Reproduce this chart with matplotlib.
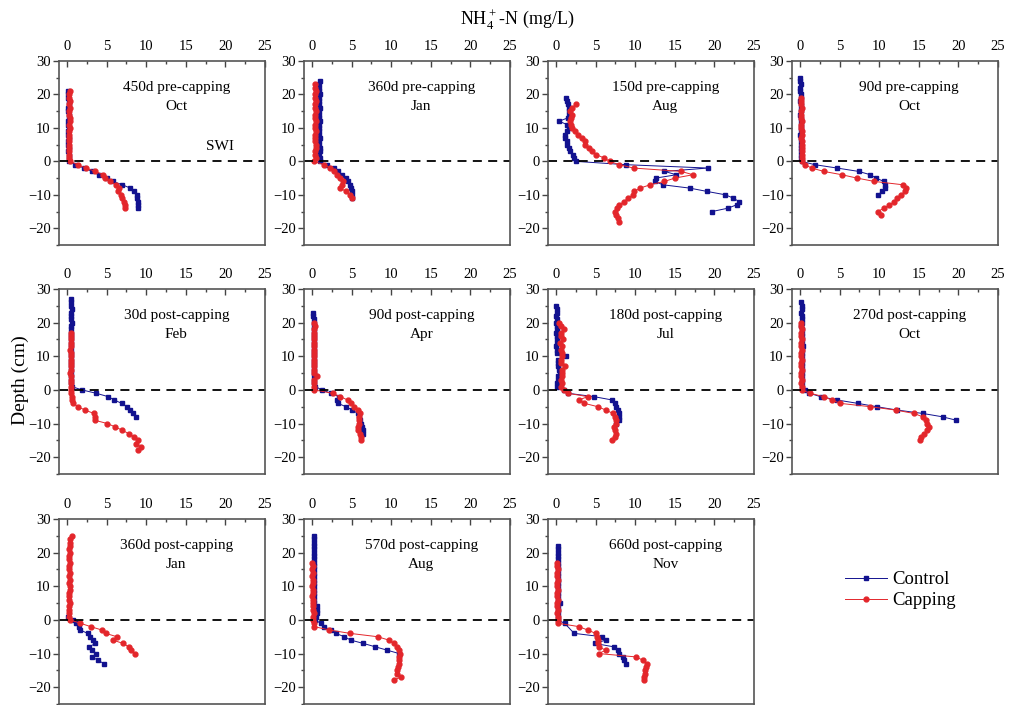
import matplotlib.pyplot as plt
from matplotlib.ticker import MultipleLocator

plt.rcParams['font.family'] = 'Liberation Serif'
plt.rcParams['mathtext.fontset'] = 'custom'
plt.rcParams['mathtext.rm'] = 'Liberation Serif'

# ---- data: NH4+-N (mg/L) vs depth (cm), control = blue, capping = red ----
# 450d pre-capping, Oct
ctrl_z_1 = list(range(21, -15, -1))
ctrl_x_1 = [0.1, 0.1, 0.1, 0.2, 0.2, 0.1, 0.1, 0.2, 0.2, 0.1, 0.1, 0.2, 0.1, 0.1, 0.2, 0.1, 0.1, 0.2,
            0.1, 0.2, 0.2, 0.3, 1.0, 2.2, 3.2, 4.0, 5.0, 5.8, 7.0, 8.0, 8.5, 8.8, 8.9, 9.0, 9.0, 9.0]
cap_z_1 = list(range(21, -15, -1))
cap_x_1 = [0.4, 0.3, 0.3, 0.4, 0.3, 0.4, 0.3, 0.3, 0.4, 0.4, 0.3, 0.4, 0.3, 0.3, 0.3, 0.2, 0.3, 0.3,
           0.2, 0.2, 0.3, 0.4, 1.4, 2.4, 3.6, 4.6, 4.8, 5.4, 6.2, 6.6, 6.4, 6.8, 7.0, 7.2, 7.3, 7.3]

# 360d pre-capping, Jan
ctrl_z_2 = list(range(24, -12, -1))
ctrl_x_2 = [1.0, 0.9, 0.9, 0.9, 1.0, 0.9, 0.9, 0.9, 1.0, 0.9, 0.9, 0.9, 1.0, 0.9, 0.9, 0.9, 0.9, 1.0,
            0.9, 0.9, 1.0, 1.0, 0.9, 1.0, 1.0, 1.9, 2.8, 3.3, 3.8, 4.3, 4.6, 4.8, 4.9, 5.0, 5.1, 5.1]
cap_z_2 = list(range(23, -12, -1))
cap_x_2 = [0.4, 0.4, 0.5, 0.4, 0.4, 0.5, 0.4, 0.4, 0.5, 0.4, 0.4, 0.5, 0.4, 0.4, 0.5, 0.4, 0.4, 0.4,
           0.5, 0.5, 0.4, 0.4, 0.5, 0.2, 1.5, 2.3, 2.8, 3.2, 3.6, 3.9, 3.8, 3.6, 4.3, 4.8, 5.0]

# 150d pre-capping, Aug
ctrl_z_3 = list(range(19, -16, -1))
ctrl_x_3 = [1.3, 1.4, 1.5, 1.6, 1.7, 1.6, 1.5, 0.4, 1.4, 1.6, 1.4, 1.2, 1.2, 1.4, 1.4, 1.7, 1.8, 2.2,
            2.3, 2.5, 8.9, 19.2, 13.7, 15.2, 12.6, 12.5, 13.5, 16.9, 19.1, 21.4, 22.4, 23.1, 22.8,
            21.7, 19.7]
cap_z_3 = list(range(17, -19, -1))
cap_x_3 = [2.5, 2.0, 1.8, 2.0, 1.9, 1.8, 1.9, 2.0, 2.4, 2.8, 3.3, 3.7, 3.7, 4.2, 4.6, 5.1, 6.1, 6.8,
           8.0, 9.8, 15.8, 17.3, 15.0, 13.7, 11.9, 10.6, 9.9, 9.7, 9.1, 8.6, 8.0, 7.7, 7.5, 7.6, 7.8, 7.9]

# 90d pre-capping, Oct
ctrl_z_4 = list(range(25, -11, -1))
ctrl_x_4 = [0.0, 0.0, 0.1, 0.0, 0.0, 0.1, 0.1, 0.0, 0.1, 0.1, 0.1, 0.0, 0.1, 0.1, 0.1, 0.1, 0.1, 0.0,
            0.1, 0.1, 0.1, 0.1, 0.1, 0.1, 0.1, 0.2, 1.9, 4.7, 7.4, 8.9, 9.6, 10.6, 10.8, 10.8, 10.4, 9.8]
cap_z_4 = list(range(19, -17, -1))
cap_x_4 = [0.1, 0.1, 0.1, 0.2, 0.1, 0.1, 0.1, 0.2, 0.1, 0.1, 0.2, 0.2, 0.1, 0.2, 0.2, 0.2, 0.2, 0.2,
           0.2, 0.2, 0.6, 1.5, 3.0, 5.3, 7.2, 9.4, 13.0, 13.4, 13.2, 12.8, 12.3, 11.9, 11.3, 10.6,
           9.8, 10.2]

# 30d post-capping, Feb
ctrl_z_5 = list(range(27, -9, -1))
ctrl_x_5 = [0.5, 0.5, 0.5, 0.6, 0.5, 0.5, 0.5, 0.6, 0.5, 0.5, 0.5, 0.5, 0.5, 0.5, 0.5, 0.5, 0.5, 0.5,
            0.5, 0.5, 0.5, 0.5, 0.5, 0.5, 0.5, 0.5, 0.6, 1.9, 3.7, 5.2, 6.0, 6.9, 7.6, 8.0, 8.4, 8.7]
cap_z_5 = list(range(17, -19, -1))
cap_x_5 = [0.5, 0.5, 0.5, 0.5, 0.5, 0.4, 0.5, 0.5, 0.5, 0.5, 0.5, 0.5, 0.4, 0.5, 0.5, 0.5, 0.5, 0.5,
           0.5, 0.6, 0.6, 0.8, 1.4, 2.3, 3.4, 3.5, 3.5, 5.1, 6.1, 7.0, 7.8, 8.5, 9.0, 8.7, 9.3, 9.0]

# 90d post-capping, Apr
ctrl_z_6 = list(range(23, -14, -1))
ctrl_x_6 = [0.1, 0.1, 0.2, 0.2, 0.2, 0.2, 0.3, 0.2, 0.2, 0.3, 0.2, 0.2, 0.3, 0.2, 0.2, 0.3, 0.3, 0.2,
            0.3, 0.3, 0.3, 0.3, 0.4, 1.3, 2.4, 3.4, 3.2, 3.3, 4.3, 5.1, 5.8, 6.0, 6.1, 6.2, 6.3, 6.4, 6.4]
cap_z_6 = list(range(20, -16, -1))
cap_x_6 = [0.3, 0.4, 0.2, 0.3, 0.2, 0.2, 0.3, 0.2, 0.3, 0.3, 0.2, 0.3, 0.3, 0.3, 0.3, 0.3, 0.6, 0.3,
           0.3, 0.3, 0.3, 2.6, 3.6, 4.5, 4.9, 5.3, 5.8, 6.1, 6.0, 5.9, 5.9, 5.8, 5.8, 6.1, 6.2, 6.2]

# 180d post-capping, Jul
ctrl_z_7 = list(range(25, -11, -1))
ctrl_x_7 = [0.0, 0.1, 0.1, 0.0, 0.1, 0.0, 0.1, 0.1, 0.0, 0.1, 0.1, 0.1, 0.0, 0.1, 0.1, 1.3, 0.2, 0.3,
            0.3, 0.4, 0.5, 0.3, 0.2, 0.1, 0.1, 1.0, 1.5, 4.8, 7.1, 7.4, 7.6, 7.8, 7.9, 7.9, 7.9, 7.6]
cap_z_7 = list(range(20, -16, -1))
cap_x_7 = [0.4, 0.7, 1.0, 0.6, 0.6, 0.9, 0.5, 0.8, 0.6, 0.8, 0.8, 0.6, 0.7, 1.1, 0.8, 0.8, 0.8, 0.7,
           0.8, 0.7, 1.0, 1.5, 4.0, 2.9, 3.6, 5.3, 6.3, 7.2, 7.4, 7.6, 7.6, 7.3, 7.4, 7.6, 7.4, 7.1]

# 270d post-capping, Oct
ctrl_z_8 = list(range(26, -10, -1))
ctrl_x_8 = [0.1, 0.2, 0.2, 0.1, 0.2, 0.2, 0.2, 0.1, 0.2, 0.2, 0.2, 0.2, 0.2, 0.35, 0.2, 0.2, 0.2,
            0.2, 0.2, 0.2, 0.2, 0.2, 0.2, 0.2, 0.2, 0.3, 0.6, 1.2, 2.6, 4.7, 7.3, 9.7, 12.3, 15.5,
            18.0, 19.7]
cap_z_8 = list(range(20, -16, -1))
cap_x_8 = [0.1, 0.1, 0.2, 0.1, 0.1, 0.2, 0.1, 0.1, 0.2, 0.1, 0.1, 0.2, 0.1, 0.1, 0.2, 0.1, 0.1, 0.2,
           0.1, 0.2, 0.2, 1.3, 3.0, 4.0, 5.1, 8.9, 12.1, 14.4, 15.5, 15.9, 16.1, 16.3, 16.1, 15.7,
           15.3, 15.1]

# 360d post-capping, Jan
ctrl_z_9 = list(range(1, -14, -1))
ctrl_x_9 = [0.1, 0.8, 1.2, 1.5, 1.7, 2.6, 2.9, 3.3, 3.6, 2.8, 3.2, 3.7, 3.2, 3.9, 4.7]
cap_z_9 = list(range(25, -11, -1))
cap_x_9 = [0.6, 0.4, 0.4, 0.4, 0.3, 0.4, 0.3, 0.3, 0.4, 0.3, 0.3, 0.4, 0.3, 0.4, 0.3, 0.4, 0.4, 0.3,
           0.3, 0.3, 0.4, 0.3, 0.3, 0.3, 0.3, 0.4, 1.7, 3.0, 4.4, 4.9, 6.3, 5.8, 7.1, 7.8, 8.1, 8.6]

# 570d post-capping, Aug
ctrl_z_10 = list(range(25, -11, -1))
ctrl_x_10 = [0.2, 0.2, 0.3, 0.2, 0.2, 0.3, 0.2, 0.2, 0.3, 0.2, 0.2, 0.3, 0.2, 0.2, 0.3, 0.2, 0.3,
             0.2, 0.3, 0.3, 0.3, 0.6, 0.7, 0.7, 0.5, 0.4, 1.1, 1.5, 2.4, 3.0, 4.1, 4.9, 6.5, 8.0,
             9.5, 11.0]
cap_z_10 = list(range(17, -19, -1))
cap_x_10 = [0.0, 0.1, 0.0, 0.1, 0.0, 0.1, 0.1, 0.0, 0.1, 0.1, 0.0, 0.1, 0.1, 0.1, 0.1, 0.2, 0.1, 0.1,
            0.2, 0.3, 2.2, 4.8, 8.3, 9.7, 10.3, 10.7, 11.0, 11.1, 11.0, 11.0, 11.0, 10.9, 10.7, 10.7,
            11.2, 10.3]

# 660d post-capping, Nov
ctrl_z_11 = list(range(22, -2, -1)) + [-4, -5, -6, -7, -8, -9, -10, -11, -12, -13]
ctrl_x_11 = [0.3, 0.3, 0.3, 0.3, 0.3, 0.3, 0.3, 0.3, 0.3, 0.3, 0.3, 0.3, 0.3, 0.3, 0.3, 0.3, 0.3,
             0.5, 0.3, 0.3, 0.3, 0.3, 0.2, 1.1, 2.3, 5.8, 6.3, 4.9, 7.3, 7.8, 8.0, 8.5, 8.6, 8.9]
cap_z_11 = list(range(17, -19, -1))
cap_x_11 = [0.1, 0.1, 0.2, 0.1, 0.1, 0.2, 0.1, 0.1, 0.2, 0.1, 0.1, 0.2, 0.1, 0.1, 0.2, 0.1, 0.2, 0.2,
            0.3, 2.9, 4.0, 5.0, 5.2, 5.3, 5.3, 5.4, 6.3, 5.4, 10.1, 11.0, 11.5, 11.4, 11.3, 11.2,
            11.1, 11.1]

titles = [("450d pre-capping", "Oct"), ("360d pre-capping", "Jan"), ("150d pre-capping", "Aug"),
          ("90d pre-capping", "Oct"), ("30d post-capping", "Feb"), ("90d post-capping", "Apr"),
          ("180d post-capping", "Jul"), ("270d post-capping", "Oct"), ("360d post-capping", "Jan"),
          ("570d post-capping", "Aug"), ("660d post-capping", "Nov")]

ctrl = [(ctrl_x_1, ctrl_z_1), (ctrl_x_2, ctrl_z_2), (ctrl_x_3, ctrl_z_3), (ctrl_x_4, ctrl_z_4),
        (ctrl_x_5, ctrl_z_5), (ctrl_x_6, ctrl_z_6), (ctrl_x_7, ctrl_z_7), (ctrl_x_8, ctrl_z_8),
        (ctrl_x_9, ctrl_z_9), (ctrl_x_10, ctrl_z_10), (ctrl_x_11, ctrl_z_11)]
cap = [(cap_x_1, cap_z_1), (cap_x_2, cap_z_2), (cap_x_3, cap_z_3), (cap_x_4, cap_z_4),
       (cap_x_5, cap_z_5), (cap_x_6, cap_z_6), (cap_x_7, cap_z_7), (cap_x_8, cap_z_8),
       (cap_x_9, cap_z_9), (cap_x_10, cap_z_10), (cap_x_11, cap_z_11)]

BLUE = '#12128f'
RED = '#e3262b'
W, H = 1009, 705

fig = plt.figure(figsize=(W / 100, H / 100), dpi=100)

col_left = [59, 304, 548, 792]
row_tb = [(61, 245), (289, 474), (519, 704)]
pw = 206

for i in range(11):
    r, c = divmod(i, 4)
    top, bot = row_tb[r]
    ax = fig.add_axes([col_left[c] / W, 1 - bot / H, pw / W, (bot - top) / H])

    cx, cz = ctrl[i]
    kx, kz = cap[i]
    l1, = ax.plot(cx, cz, '-s', color=BLUE, lw=0.7, ms=2.7, mec=BLUE, label='Control')
    l2, = ax.plot(kx, kz, '-o', color=RED, lw=0.7, ms=3.5, mec=RED, label='Capping')
    ax.axhline(0, color='black', ls=(0, (5, 3.5)), lw=1.3)

    ax.set_xlim(-1, 25)
    ax.set_ylim(-25, 30)
    ax.xaxis.tick_top()
    ax.xaxis.set_major_locator(MultipleLocator(5))
    ax.xaxis.set_minor_locator(MultipleLocator(2.5))
    ax.yaxis.set_major_locator(MultipleLocator(10))
    ax.yaxis.set_minor_locator(MultipleLocator(5))
    ax.tick_params(axis='x', which='major', direction='in', length=4, width=1, labelsize=10.5,
                   pad=6, color='#444444')
    ax.tick_params(axis='x', which='minor', direction='in', length=2.5, width=1, color='#444444')
    ax.tick_params(axis='y', which='major', direction='out', length=4, width=1, labelsize=10.5,
                   pad=2, color='#444444')
    ax.tick_params(axis='y', which='minor', direction='out', length=2.5, width=1, color='#444444')
    for s in ax.spines.values():
        s.set_color('#555555')
        s.set_linewidth(1.2)

    t1, t2 = titles[i]
    ax.text(13.8, 22.2, t1, ha='center', va='center', fontsize=11)
    ax.text(13.8, 16.5, t2, ha='center', va='center', fontsize=11)
    if i == 0:
        ax.text(19.3, 4.3, 'SWI', ha='center', va='center', fontsize=11)

fig.text(517 / W, 1 - 20 / H, r'NH$_4^+$-N (mg/L)', ha='center', va='center', fontsize=13)
fig.text(20 / W, 1 - 380 / H, 'Depth (cm)', ha='center', va='center', rotation=90, fontsize=14)

fig.legend([l1, l2], ['Control', 'Capping'], loc='upper left',
           bbox_to_anchor=(836 / W, 1 - 562 / H), frameon=False, fontsize=13.5,
           handlelength=2.2, handletextpad=0.3, labelspacing=0.2, borderpad=0)

fig.savefig('out.png', dpi=100)
